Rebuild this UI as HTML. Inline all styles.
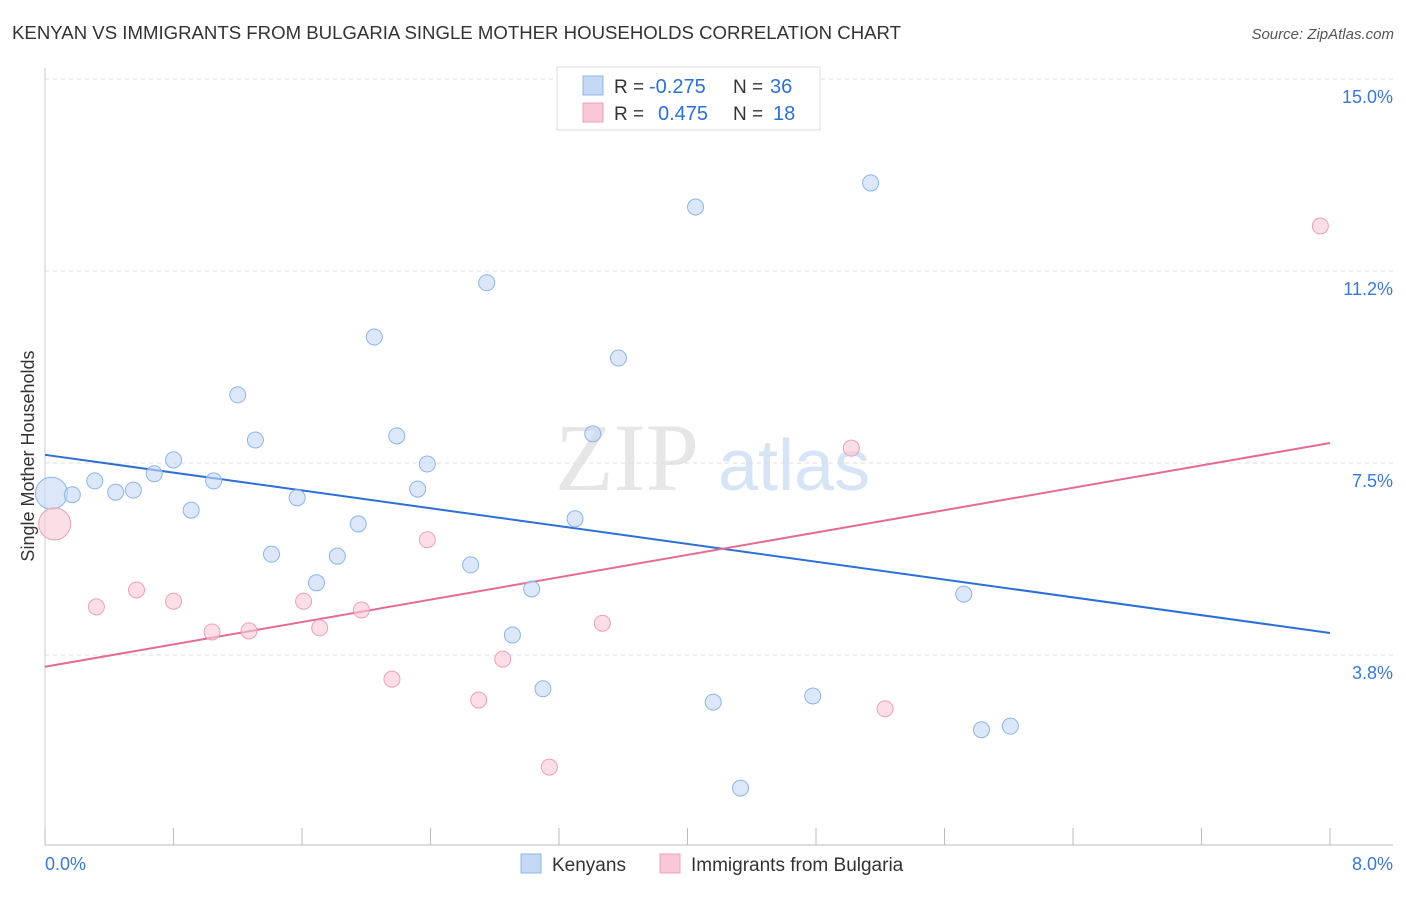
<!DOCTYPE html>
<html><head><meta charset="utf-8"><style>
body{margin:0;background:#fff;font-family:"Liberation Sans",sans-serif;}
svg text{font-family:"Liberation Sans",sans-serif;}
</style></head><body>
<svg id="chart" width="1406" height="892" xmlns="http://www.w3.org/2000/svg">
<text x="12" y="39" font-size="18" fill="#333" textLength="889" lengthAdjust="spacingAndGlyphs">KENYAN VS IMMIGRANTS FROM BULGARIA SINGLE MOTHER HOUSEHOLDS CORRELATION CHART</text>
<text x="1394" y="39" font-size="15" fill="#555" font-style="italic" text-anchor="end">Source: ZipAtlas.com</text>
<text x="555" y="490" font-size="96" fill="#e6e6e6" style="font-family:'Liberation Serif',serif">ZIP</text>
<text x="718" y="490" font-size="72" fill="#d6e4f5">atlas</text>
<text transform="translate(34,456) rotate(-90)" font-size="18" fill="#333" text-anchor="middle">Single Mother Households</text>
<g id="grid"></g><g id="axes"></g><g id="lines"></g><g id="points"></g>
<g>
<rect x="557" y="67" width="263" height="63" fill="#fff" stroke="#ddd"/>
<rect x="583" y="76" width="20" height="19" fill="#c5d9f5" stroke="#8db4e8"/>
<rect x="583" y="103" width="20" height="19" fill="#f8c8d6" stroke="#eda0b8"/>
<text x="614" y="93" font-size="19" fill="#333">R =</text>
<text x="649" y="93" font-size="20" fill="#2c6fd6">-0.275</text>
<text x="733" y="93" font-size="19" fill="#333">N =</text>
<text x="770" y="93" font-size="20" fill="#2c6fd6">36</text>
<text x="614" y="120" font-size="19" fill="#333">R =</text>
<text x="658" y="120" font-size="20" fill="#2c6fd6">0.475</text>
<text x="733" y="120" font-size="19" fill="#333">N =</text>
<text x="773" y="120" font-size="20" fill="#2c6fd6">18</text>
</g>
<g>
<rect x="521" y="854" width="20" height="19" fill="#c5d9f5" stroke="#8db4e8"/>
<text x="552" y="871" font-size="19" fill="#333">Kenyans</text>
<rect x="660" y="854" width="20" height="19" fill="#f8c8d6" stroke="#eda0b8"/>
<text x="691" y="871" font-size="19" fill="#333">Immigrants from Bulgaria</text>
</g>
</svg>
<script>
const blueX=[0.04,0.17,0.31,0.44,0.55,0.68,0.80,0.91,1.05,1.20,1.31,1.41,1.57,1.69,1.82,1.95,2.05,2.19,2.32,2.38,2.65,2.75,2.91,3.03,3.10,3.30,3.41,3.57,4.05,4.16,4.33,4.78,5.14,5.72,5.83,6.01];
const blueY=[6.91,6.88,7.15,6.93,6.97,7.29,7.56,6.58,7.15,8.83,7.95,5.72,6.82,5.16,5.68,6.31,9.96,8.03,6.99,7.48,5.51,11.02,4.14,5.04,3.09,6.41,8.07,9.55,12.50,2.83,1.15,2.95,12.97,4.94,2.29,2.36];
const pinkX=[0.06,0.32,0.57,0.80,1.04,1.27,1.61,1.71,1.97,2.16,2.38,2.70,2.85,3.14,3.47,5.02,5.23,7.94];
const pinkY=[6.31,4.69,5.02,4.80,4.20,4.22,4.80,4.28,4.63,3.28,6.00,2.87,3.67,1.56,4.37,7.79,2.70,12.13];
const blueTrend=[7.66,4.18];
const pinkTrend=[3.52,7.89];
const yTicks=[15.0,11.25,7.5,3.75];
const yTickLabels=["15.0%","11.2%","7.5%","3.8%"];
const xTicks=[0,0.8,1.6,2.4,3.2,4.0,4.8,5.6,6.4,7.2,8.0];
const NS="http://www.w3.org/2000/svg";
const sx=v=>45+v*(1285/8), sy=v=>847-v*51.2;
function mk(t,a,p){const e=document.createElementNS(NS,t);for(const k in a)e.setAttribute(k,a[k]);document.getElementById(p).appendChild(e);return e;}
yTicks.forEach((v,i)=>{
 const g=mk('line',{x1:45,x2:1393,y1:sy(v),y2:sy(v),stroke:'#ddd','stroke-dasharray':'4,4'},'grid');
 
 
 const t=mk('text',{x:1393,y:sy(v)+24,'font-size':18,fill:'#3a78d8','text-anchor':'end'},'axes');
 t.textContent=yTickLabels[i];
 
 
});
const ax=mk('line',{x1:45,x2:1393,y1:845,y2:845,stroke:'#bbb'},'axes');


const ay=mk('line',{x1:45,x2:45,y1:68,y2:845,stroke:'#ccc'},'axes');


xTicks.forEach(v=>{const l=mk('line',{x1:sx(v),x2:sx(v),y1:828,y2:845,stroke:'#bbb'},'axes');
 
 });
[[xTicks[0],'0.0%','start',45],[xTicks[10],'8.0%','end',1393]].forEach(([v,s,a,x])=>{
 const t=mk('text',{x:x,y:870,'font-size':18,fill:'#3a78d8','text-anchor':a},'axes');t.textContent=s;
 
 });
const bl=mk('line',{x1:sx(0),y1:sy(blueTrend[0]),x2:sx(8),y2:sy(blueTrend[1]),stroke:'#2c6fd6','stroke-width':2},'lines');


const pl=mk('line',{x1:sx(0),y1:sy(pinkTrend[0]),x2:sx(8),y2:sy(pinkTrend[1]),stroke:'#e56b95','stroke-width':2},'lines');


blueX.forEach((x,i)=>{const c=mk('circle',{cx:sx(x),cy:sy(blueY[i]),r:i==0?16:8,fill:'#c5d9f5','fill-opacity':0.6,stroke:'#8db4e8'},'points');
 
 });
pinkX.forEach((x,i)=>{const c=mk('circle',{cx:sx(x),cy:sy(pinkY[i]),r:i==0?16:8,fill:'#f8c8d6','fill-opacity':0.6,stroke:'#eda0b8'},'points');
 
 });
</script>
</body></html>
